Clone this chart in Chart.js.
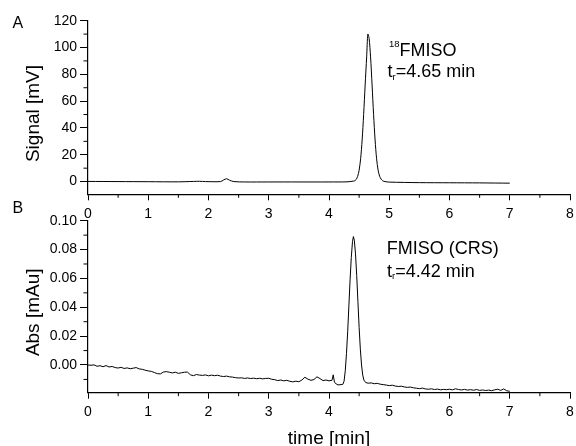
<!DOCTYPE html>
<html>
<head>
<meta charset="utf-8">
<script src="https://cdn.jsdelivr.net/npm/chart.js@4.4.0/dist/chart.umd.min.js"></script>
<style>
html, body { margin: 0; padding: 0; background: #fff; }
body { width: 576px; height: 446px; position: relative; overflow: hidden; }
.panel { position: absolute; left: 0; width: 576px; }
#panel_a { top: 0; height: 226px; }
#panel_b { top: 200px; height: 250px; }
</style>
</head>
<body>
<div class="panel" id="panel_a"><canvas id="chart_a"></canvas></div>
<div class="panel" id="panel_b"><canvas id="chart_b"></canvas></div>
<script>
// x axis (shared by both panels)
const xTicks = [0, 1, 2, 3, 4, 5, 6, 7, 8]
const xMinor = [0.5, 1.5, 2.5, 3.5, 4.5, 5.5, 6.5, 7.5]

// panel A: radio detector, 18FMISO
const yTicksA = [0, 20, 40, 60, 80, 100, 120]
const yMinorA = [10, 30, 50, 70, 90, 110]
const timeA = [0, 0.5, 1.0, 1.5, 1.75, 1.85, 1.95, 2.2, 2.25, 2.3, 2.35, 2.42, 2.6, 3.0, 3.5, 4.0, 4.3,
  4.4, 4.425, 4.45, 4.475, 4.5, 4.525, 4.55, 4.575, 4.6, 4.625, 4.645, 4.665, 4.69, 4.715, 4.74, 4.765,
  4.79, 4.815, 4.84, 4.865, 4.89, 4.93, 5.0, 5.5, 6.0, 6.5, 7.0]
const signalA = [0.1, 0, -0.1, -0.2, 0.1, 0.2, 0, 0, 1.2, 2.1, 1.0, 0, -0.3, -0.3, -0.3, -0.3, -0.2,
  0.3, 0.6, 1.5, 3.8, 8.5, 17, 31, 50, 72, 93, 110, 107, 93, 72, 50, 31,
  17, 8.5, 4, 1.8, 0.6, 0, -0.4, -0.8, -0.9, -1.0, -1.2]

// panel B: UV detector, FMISO reference standard
const yTicksB = [0, 0.02, 0.04, 0.06, 0.08, 0.10]
const yMinorB = [-0.01, 0.01, 0.03, 0.05, 0.07, 0.09]
const timeB = [
  0, 0.05, 0.1, 0.15, 0.2, 0.25, 0.3, 0.35, 0.4, 0.45,
  0.5, 0.55, 0.6, 0.65, 0.7, 0.75, 0.8, 0.85, 0.9, 0.95,
  1.0, 1.05, 1.1, 1.15, 1.2, 1.25, 1.3, 1.35, 1.4, 1.45,
  1.5, 1.55, 1.6, 1.65, 1.7, 1.75, 1.8, 1.85, 1.9, 1.95,
  2.0, 2.05, 2.1, 2.15, 2.2, 2.25, 2.3, 2.35, 2.4, 2.45,
  2.5, 2.55, 2.6, 2.65, 2.7, 2.75, 2.8, 2.85, 2.9, 2.95,
  3.0, 3.05, 3.1, 3.15, 3.2, 3.25, 3.3, 3.35, 3.4, 3.45,
  3.5, 3.55, 3.6, 3.65, 3.7, 3.75, 3.8, 3.85, 3.9, 3.95,
  4.0, 4.05, 4.07, 4.09, 4.12, 4.15, 4.2, 4.23, 4.25, 4.27,
  4.29, 4.31, 4.33, 4.35, 4.37, 4.39, 4.405, 4.42, 4.44, 4.46,
  4.48, 4.5, 4.52, 4.54, 4.56, 4.58, 4.61, 4.65, 4.7, 4.75,
  4.8, 4.85, 4.9, 4.95, 5.0, 5.05, 5.1, 5.15, 5.2, 5.25,
  5.3, 5.35, 5.4, 5.45, 5.5, 5.55, 5.6, 5.65, 5.7, 5.75,
  5.8, 5.85, 5.9, 5.95, 6.0, 6.05, 6.1, 6.15, 6.2, 6.25,
  6.3, 6.35, 6.4, 6.45, 6.5, 6.55, 6.6, 6.65, 6.7, 6.75,
  6.8, 6.85, 6.9, 6.95, 7.0]
const absB = [
  0.0000, -0.0002, 0.0001, -0.0009, -0.0005, -0.0012, -0.0004, -0.0014, -0.0010, -0.0018,
  -0.0021, -0.0016, -0.0024, -0.0020, -0.0026, -0.0022, -0.0018, -0.0027, -0.0030, -0.0036,
  -0.0041, -0.0044, -0.0052, -0.0060, -0.0062, -0.0049, -0.0046, -0.0050, -0.0055, -0.0050,
  -0.0058, -0.0054, -0.0050, -0.0049, -0.0068, -0.0074, -0.0066, -0.0070, -0.0072, -0.0069,
  -0.0075, -0.0070, -0.0074, -0.0071, -0.0077, -0.0080, -0.0077, -0.0082, -0.0084, -0.0088,
  -0.0090, -0.0089, -0.0093, -0.0090, -0.0094, -0.0091, -0.0095, -0.0092, -0.0096, -0.0093,
  -0.0092, -0.0099, -0.0102, -0.0108, -0.0104, -0.0110, -0.0106, -0.0113, -0.0117, -0.0112,
  -0.0116, -0.0104, -0.0085, -0.0098, -0.0106, -0.0101, -0.0082, -0.0094, -0.0108, -0.0104,
  -0.0110, -0.0106, -0.0068, -0.0118, -0.0132, -0.0138, -0.0136, -0.0134, -0.0112, -0.0040,
  0.0080, 0.0230, 0.0410, 0.0590, 0.0745, 0.0855, 0.0890, 0.0865, 0.0770, 0.0620,
  0.0440, 0.0260, 0.0110, 0.0000, -0.0070, -0.0105, -0.0122, -0.0126, -0.0124, -0.0130,
  -0.0127, -0.0133, -0.0136, -0.0139, -0.0143, -0.0140, -0.0146, -0.0149, -0.0147, -0.0152,
  -0.0155, -0.0153, -0.0158, -0.0161, -0.0164, -0.0160, -0.0166, -0.0168, -0.0165, -0.0170,
  -0.0167, -0.0172, -0.0169, -0.0171, -0.0168, -0.0172, -0.0165, -0.0170, -0.0173, -0.0169,
  -0.0174, -0.0171, -0.0175, -0.0170, -0.0176, -0.0173, -0.0177, -0.0174, -0.0178, -0.0172,
  -0.0168, -0.0176, -0.0166, -0.0179, -0.0182]

const FONT = '"Liberation Sans", Arial, sans-serif'
Chart.defaults.font.family = FONT
Chart.defaults.color = '#000'

// minor ticks, y titles, panel letters and peak labels
const extras = {
  id: 'extras',
  afterDraw(chart, args, opts) {
    const ctx = chart.ctx
    const x = chart.scales.x
    const y = chart.scales.y
    ctx.save()
    ctx.strokeStyle = '#000'
    ctx.lineWidth = 1
    opts.xMinor.forEach(v => {
      const px = x.getPixelForValue(v)
      ctx.beginPath(); ctx.moveTo(px, x.top); ctx.lineTo(px, x.top + 3.5); ctx.stroke()
    })
    opts.yMinor.forEach(v => {
      const py = y.getPixelForValue(v)
      ctx.beginPath(); ctx.moveTo(y.right, py); ctx.lineTo(y.right - 4.5, py); ctx.stroke()
    })
    ctx.fillStyle = '#000'
    // y title
    ctx.save()
    ctx.translate(34, opts.yTitleY)
    ctx.rotate(-Math.PI / 2)
    ctx.font = '19px ' + FONT
    ctx.textAlign = 'center'
    ctx.textBaseline = 'middle'
    ctx.fillText(opts.yTitle, 0, 0)
    ctx.restore()
    ctx.textAlign = 'left'
    ctx.textBaseline = 'alphabetic'
    opts.texts.forEach(line => {
      let cx = line.x
      line.parts.forEach(p => {
        ctx.font = p.size + 'px ' + FONT
        ctx.fillText(p.text, cx, line.y + (p.dy || 0))
        cx += ctx.measureText(p.text).width
      })
    })
    ctx.restore()
  }
}

function xScale(height, title) {
  return {
    type: 'linear', min: 0, max: 8,
    afterBuildTicks: s => { s.ticks = xTicks.map(v => ({ value: v })) },
    afterFit: s => { s.height = height; s.paddingLeft = 0; s.paddingRight = 0 },
    grid: { drawOnChartArea: false, tickLength: 6, tickColor: '#000', color: '#000' },
    border: { color: '#000', width: 1.2 },
    ticks: { font: { size: 14 }, padding: 5, maxRotation: 0, autoSkip: false },
    title: title
  }
}

const ctxA = document.getElementById('chart_a')
const ctxB = document.getElementById('chart_b')

new Chart(ctxA, {
  type: 'line',
  data: {
    datasets: [{
      data: timeA.map((t, i) => ({ x: t, y: signalA[i] })),
      borderColor: '#000', borderWidth: 1, pointRadius: 0, tension: 0.3
    }]
  },
  options: {
    responsive: true, maintainAspectRatio: false, animation: false,
    layout: { padding: { top: 20.7, right: 6, left: 0, bottom: 0 } },
    plugins: {
      legend: { display: false }, tooltip: { enabled: false },
      extras: {
        xMinor: xMinor, yMinor: yMinorA, yTitle: 'Signal [mV]', yTitleY: 113.5,
        texts: [
          { x: 12.5, y: 28.3, parts: [{ text: 'A', size: 16 }] },
          { x: 389, y: 55.7, parts: [{ text: '18', size: 9.5, dy: -9 }, { text: 'FMISO', size: 18 }] },
          { x: 387.5, y: 77.3, parts: [{ text: 't', size: 18 }, { text: 'r', size: 9.5, dy: 2.5 }, { text: '=4.65 min', size: 18 }] }
        ]
      }
    },
    scales: {
      x: xScale(31.7, { display: false }),
      y: {
        type: 'linear', min: -9.5, max: 120,
        afterBuildTicks: s => { s.ticks = yTicksA.map(v => ({ value: v })) },
        afterFit: s => { s.width = 88 },
        grid: { drawOnChartArea: false, tickLength: 8, tickColor: '#000', color: '#000' },
        border: { color: '#000', width: 1.2 },
        ticks: { font: { size: 14 }, padding: 3 }
      }
    }
  },
  plugins: [extras]
})

new Chart(ctxB, {
  type: 'line',
  data: {
    datasets: [{
      data: timeB.map((t, i) => ({ x: t, y: absB[i] })),
      borderColor: '#000', borderWidth: 1, pointRadius: 0, tension: 0
    }]
  },
  options: {
    responsive: true, maintainAspectRatio: false, animation: false,
    layout: { padding: { top: 20.7, right: 6, left: 0, bottom: 0 } },
    plugins: {
      legend: { display: false }, tooltip: { enabled: false },
      extras: {
        xMinor: xMinor, yMinor: yMinorB, yTitle: 'Abs [mAu]', yTitleY: 112.3,
        texts: [
          { x: 12.5, y: 12.7, parts: [{ text: 'B', size: 16 }] },
          { x: 386.7, y: 54.3, parts: [{ text: 'FMISO (CRS)', size: 18 }] },
          { x: 387, y: 76.7, parts: [{ text: 't', size: 18 }, { text: 'r', size: 9.5, dy: 2.5 }, { text: '=4.42 min', size: 18 }] }
        ]
      }
    },
    scales: {
      x: xScale(57.3, { display: true, text: 'time [min]', font: { size: 19 }, padding: { top: 0, bottom: 0 } }),
      y: {
        type: 'linear', min: -0.0192, max: 0.1,
        afterBuildTicks: s => { s.ticks = yTicksB.map(v => ({ value: v })) },
        afterFit: s => { s.width = 88 },
        grid: { drawOnChartArea: false, tickLength: 8, tickColor: '#000', color: '#000' },
        border: { color: '#000', width: 1.2 },
        ticks: { font: { size: 14 }, padding: 3, callback: v => v.toFixed(2) }
      }
    }
  },
  plugins: [extras]
})
</script>
</body>
</html>
